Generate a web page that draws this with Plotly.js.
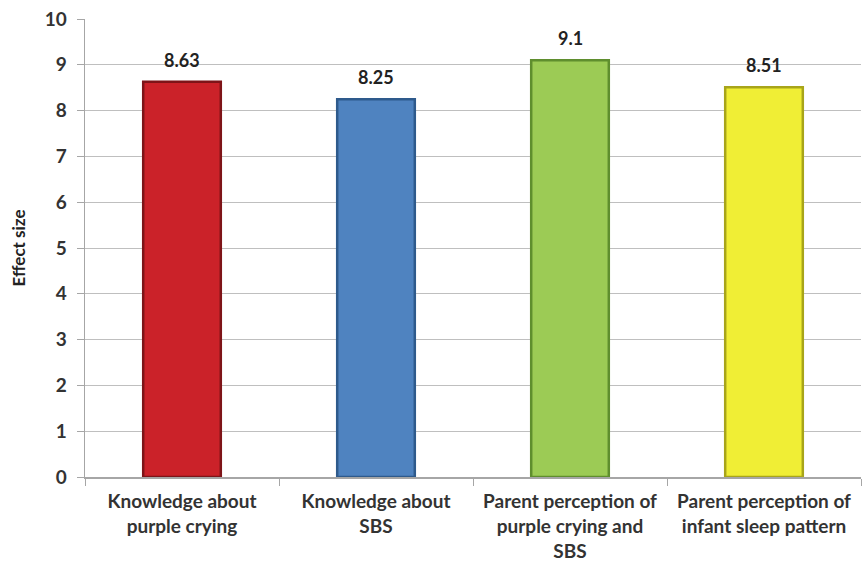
<!DOCTYPE html>
<html><head><meta charset="utf-8">
<script src="https://cdn.plot.ly/plotly-3.0.1.min.js"></script>
<style>html,body{margin:0;padding:0;background:#fff}#c{width:863px;height:564px}</style>
</head><body><div id="c"></div>
<script>
const categories = ["Knowledge about<br>purple crying", "Knowledge about<br>SBS", "Parent perception of<br>purple crying and<br>SBS", "Parent perception of<br>infant sleep pattern"];
const values = [8.63, 8.25, 9.1, 8.51];
const labels = ["8.63", "8.25", "9.1", "8.51"];
const colors = ["#CB2229", "#4F83C0", "#9CCB55", "#F0EE35"];
const edgeColors = ["#7E1418", "#2E5A8C", "#5F8E2E", "#A8A51A"];
const yTicks = [0,1,2,3,4,5,6,7,8,9,10];

const annotations = categories.map((c, i) => ({
  x: c, y: values[i], text: labels[i], showarrow: false,
  yanchor: 'bottom', yshift: 9,
  font: {family: 'Lato, "Open Sans", sans-serif', size: 18, color: '#222', weight: 'bold'}
}));

Plotly.newPlot('c', [{
  type: 'bar', x: categories, y: values,
  marker: {color: colors, line: {color: edgeColors, width: 2.5}},
  width: 0.4, hoverinfo: 'none'
}], {
  width: 863, height: 564,
  margin: {l: 85, r: 2, t: 19, b: 87},
  paper_bgcolor: '#fff', plot_bgcolor: '#fff',
  showlegend: false,
  annotations: annotations,
  font: {family: 'Lato, "Open Sans", sans-serif', color: '#333'},
  xaxis: {
    showline: true, linecolor: '#a6a6a6', linewidth: 1.5,
    ticks: 'outside', tickson: 'boundaries', ticklen: 7, tickcolor: '#a6a6a6',
    ticklabelstandoff: 7,
    tickfont: {size: 19, color: '#333', weight: 'bold'}, showgrid: false
  },
  yaxis: {
    range: [0, 10], tickvals: yTicks, showline: true, linecolor: '#a6a6a6', linewidth: 1.5,
    ticks: 'outside', ticklen: 7, tickcolor: '#a6a6a6', ticklabelstandoff: 6,
    gridcolor: '#bfbfbf', gridwidth: 1, zeroline: false,
    tickfont: {size: 19, color: '#333', weight: 'bold'},
    title: {text: 'Effect size', font: {size: 17, color: '#222', weight: 'bold'}, standoff: 14}
  }
}, {staticPlot: true});
</script></body></html>
